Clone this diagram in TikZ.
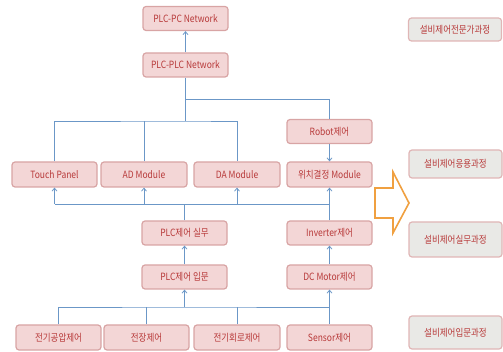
\documentclass[tikz,border=0pt]{standalone}
\usepackage{fontspec}
\setmainfont{Noto Sans CJK KR}[FakeStretch=0.85]
\usetikzlibrary{arrows.meta}
\definecolor{boxfill}{HTML}{F3D6D6}
\definecolor{boxdraw}{HTML}{D8A4A4}
\definecolor{txtred}{HTML}{B83A3A}
\definecolor{lineblue}{HTML}{6B97C7}
\definecolor{grayfill}{HTML}{E9E9E6}
\definecolor{orangeline}{HTML}{F0A040}
\tikzset{
  pbox/.style={draw=boxdraw, fill=boxfill, line width=1.2pt, rounded corners=3pt,
    minimum width=85pt, minimum height=24pt, inner sep=0pt, text=txtred,
    font=\fontsize{10}{12}\selectfont},
  gbox/.style={draw=boxdraw!80, fill=grayfill, line width=1.2pt, rounded corners=3pt,
    minimum width=93pt, inner sep=0pt, text=txtred,
    font=\fontsize{10}{12}\selectfont},
  conn/.style={draw=lineblue, line width=0.8pt},
  arr/.style={conn, -{Straight Barb[length=3pt,width=5pt]}},
}
\begin{document}
\begin{tikzpicture}[x=1pt,y=-1pt]
\useasboundingbox (0,0) rectangle (503,352);
% pink boxes
\node[pbox] (pc) at (185.5,18.5) {PLC-PC Network};
\node[pbox] (plc) at (185.5,65) {PLC-PLC Network};
\node[pbox] (robot) at (329.5,131.5) {Robot제어};
\node[pbox, minimum height=25pt] (tp) at (54.5,174.5) {Touch Panel};
\node[pbox, minimum height=25pt, minimum width=86pt] (ad) at (144,174.5) {AD Module};
\node[pbox, minimum height=25pt, minimum width=86pt] (da) at (237,174.5) {DA Module};
\node[pbox, minimum height=25pt] (pos) at (329.5,174.5) {위치결정 Module};
\node[pbox] (prac) at (184.5,233) {PLC제어 실무};
\node[pbox] (inv) at (329.5,233) {Inverter제어};
\node[pbox] (intro) at (184.5,277) {PLC제어 입문};
\node[pbox] (dc) at (329.5,277) {DC Motor제어};
\node[pbox, minimum height=25pt] (pn) at (58.5,337.5) {전기공압제어};
\node[pbox, minimum height=25pt] (el) at (146.5,337.5) {전장제어};
\node[pbox, minimum height=25pt, minimum width=86pt] (ci) at (237,337.5) {전기회로제어};
\node[pbox, minimum height=25pt] (se) at (329.5,337.5) {Sensor제어};
% gray course boxes
\node[gbox, minimum height=23pt] (c1) at (455,29.5) {설비제어전문가과정};
\node[gbox, minimum height=28pt] (c2) at (455.5,164) {설비제어응용과정};
\node[gbox, minimum height=35pt] (c3) at (455.5,239.5) {설비제어실무과정};
\node[gbox, minimum height=33pt] (c4) at (455.5,332.5) {설비제어입문과정};
% orange block arrow
\draw[draw=orangeline, fill=white, line width=1.6pt, line join=miter]
  (375,188) -- (393,188) -- (393,172) -- (409,203) -- (393,233) -- (393,218) -- (375,218) -- cycle;
% junction coordinates
\coordinate (j1) at (185.5,99);
\coordinate (j2) at (185.5,121);
\coordinate (m1) at (184.5,204);
\coordinate (b1) at (184.5,307);
% top part
\draw[arr] (plc.north) -- (pc.south);
\draw[conn] (plc.south) -- (j2);
\draw[conn] (j1) -| (robot.north);
\draw[conn] (tp.north) |- (j2) -| (da.north);
\draw[conn] (ad.north) -- (ad.north |- j2);
\draw[arr] (robot.south) -- (pos.north);
% middle bus
\draw[conn] (tp.south |- m1) -- (inv.north |- m1);
\draw[arr] (tp.south |- m1) -- (tp.south);
\draw[arr] (ad.south |- m1) -- (ad.south);
\draw[arr] (da.south |- m1) -- (da.south);
\draw[conn] (prac.north) -- (m1);
\draw[arr] (inv.north) -- (pos.south);
\draw[arr] (intro.north) -- (prac.south);
\draw[arr] (dc.north) -- (inv.south);
% bottom bus
\draw[conn] (pn.north) |- (b1) -- (se.north |- b1);
\draw[conn] (el.north) -- (el.north |- b1);
\draw[conn] (ci.north) -- (ci.north |- b1);
\draw[arr] (b1) -- (intro.south);
\draw[arr] (se.north) -- (dc.south);
\end{tikzpicture}
\end{document}
